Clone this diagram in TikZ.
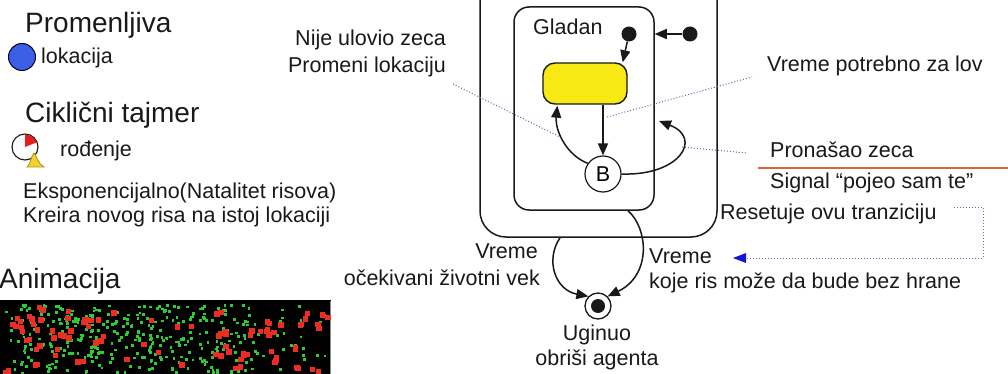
\documentclass[tikz,border=0pt]{standalone}
\usepackage{fontspec}
\setmainfont{Liberation Sans}
\usetikzlibrary{arrows.meta,calc}
\definecolor{ink}{RGB}{25,25,25}
\definecolor{leader}{RGB}{105,105,175}
\definecolor{tipblue}{RGB}{20,20,215}
\definecolor{statefill}{RGB}{248,232,20}
\definecolor{varblue}{RGB}{60,95,230}
\definecolor{timerred}{RGB}{230,30,30}
\definecolor{bellyellow}{RGB}{245,210,40}
\definecolor{sepline}{RGB}{215,100,60}
\definecolor{anired}{RGB}{235,45,35}
\definecolor{anigreen}{RGB}{45,205,50}
\begin{document}
\begin{tikzpicture}[x=1pt,y=-1pt,
  body/.style={font=\fontsize{21.5}{24}\selectfont, inner sep=0pt, text=ink},
  heading/.style={font=\fontsize{28}{30}\selectfont, inner sep=0pt, text=ink},
  edge/.style={draw=ink, line width=1.5pt, -{Triangle[length=12pt,width=10pt]}},
  leaderline/.style={draw=leader, dotted, line width=1pt},
  dot/.style={circle, fill=ink, inner sep=0pt, minimum size=15pt},
]
\useasboundingbox (0,0) rectangle (1008,374);
\clip (0,0) rectangle (1008,374);

% ---------- legend on the left ----------
\node[heading, anchor=base west] (tvar) at (25,33) {Promenljiva};
\node[circle, draw=black!85!blue, line width=1pt, fill=varblue, inner sep=0pt, minimum size=27pt] (varico) at (22,57) {};
\node[body, anchor=base west] (tlok) at (41,64) {lokacija};

\node[heading, anchor=base west] (ttimer) at (25,123) {Ciklični tajmer};
% cyclic timer icon: dial with red sector and a bell
\node[circle, draw=ink, line width=1.1pt, fill=white, inner sep=0pt, minimum size=26pt] (timer) at (25,147) {};
\fill[timerred] (timer.center) -- ++(0,-12.5) arc[start angle=-90, end angle=-22, radius=12.5] -- cycle;
\filldraw[fill=bellyellow, draw=black!30!bellyellow!80!brown, line width=0.8pt]
  (27,167) .. controls (31,164) and (31,156) .. (34,153)
  .. controls (37,156) and (38,164) .. (44,167) -- cycle;
\node[body, anchor=base west] (tbirth) at (60,157) {rođenje};
\node[body, anchor=base west] (texp) at (23,198) {Eksponencijalno(Natalitet risova)};
\node[body, anchor=base west] (tnew) at (23,222) {Kreira novog risa na istoj lokaciji};

\node[heading, anchor=base west] (tanim) at (-1,288) {Animacija};

% ---------- animation snapshot ----------
\fill[black] (0,300) rectangle (331,380);
\draw[black!45, line width=1pt] (330,301) -- (330,380);
\pgfmathsetseed{11}
% green agents, densest in the middle band
\foreach \i in {1,...,260}{
  \pgfmathsetmacro{\px}{20+rnd*230}
  \pgfmathsetmacro{\py}{304+rnd*68}
  \fill[anigreen] (\px,\py) rectangle ++(2.8,2.8);
}
\foreach \i in {1,...,110}{
  \pgfmathsetmacro{\px}{2+rnd*325}
  \pgfmathsetmacro{\py}{304+rnd*68}
  \fill[anigreen] (\px,\py) rectangle ++(2.8,2.8);
}
% red agents, in small clumps towards both sides
\foreach \i in {1,...,22}{
  \pgfmathsetmacro{\cx}{1+rnd*100}
  \pgfmathsetmacro{\cy}{306+rnd*62}
  \foreach \k in {1,2}{
    \pgfmathsetmacro{\px}{\cx+rnd*9-4}
    \pgfmathsetmacro{\py}{\cy+rnd*9-4}
    \fill[anired] (\px,\py) rectangle ++(5.5,5.5);
  }
}
\foreach \i in {1,...,8}{
  \pgfmathsetmacro{\px}{100+rnd*110}
  \pgfmathsetmacro{\py}{306+rnd*64}
  \fill[anired] (\px,\py) rectangle ++(5.5,5.5);
}
\foreach \i in {1,...,22}{
  \pgfmathsetmacro{\cx}{210+rnd*115}
  \pgfmathsetmacro{\cy}{306+rnd*62}
  \foreach \k in {1,2}{
    \pgfmathsetmacro{\px}{\cx+rnd*9-4}
    \pgfmathsetmacro{\py}{\cy+rnd*9-4}
    \fill[anired] (\px,\py) rectangle ++(5.5,5.5);
  }
}

% ---------- statechart ----------
\node[draw=ink, line width=1.5pt, rounded corners=26pt, minimum width=237pt, minimum height=270pt, inner sep=0pt] (outer) at (598.5,102) {};
\node[draw=ink, line width=1.5pt, rounded corners=15pt, minimum width=140pt, minimum height=203pt, inner sep=0pt] (gladan) at (584,108.5) {};
\node[body, anchor=base west] (tgladan) at (533,35) {Gladan};

\node[draw=ink, line width=1.4pt, fill=statefill, rounded corners=12pt, minimum width=84pt, minimum height=41pt, inner sep=0pt] (hunt) at (585,83.5) {};
\node[dot] (init) at (629,34) {};
\node[dot] (init2) at (690,34) {};
\node[circle, draw=ink, line width=1.2pt, fill=white, minimum size=36pt, inner sep=0pt, font=\fontsize{21.5}{24}\selectfont] (B) at (603,174) {B};

\draw[edge] (init) -- ($(hunt.north east)+(-5,0)$);
\draw[edge] (init2) -- (gladan.east |- init2);
\draw[edge] (B |- hunt.south) -- (B.north);
\coordinate (backin) at ($(hunt.south west)+(15,1)$);
\draw[edge] (B.145) .. controls (566,155) and (555,130) .. (backin);
\coordinate (caughtin) at (659,121);
\draw[edge] (B.east) .. controls (680,176) and (703,138) .. (caughtin);

% final state
\node[circle, draw=ink, line width=1.3pt, fill=white, minimum size=26pt, inner sep=0pt] (final) at (598,306) {};
\node[circle, fill=ink, minimum size=14pt, inner sep=0pt] (finalcore) at (final.center) {};
\coordinate (ageout) at ($(outer.south)+(-38.5,0)$);
\coordinate (starveout) at ($(gladan.south)+(44,0)$);
\draw[edge] (ageout) .. controls (545,260) and (555,290) .. (final.135);
\draw[edge] (starveout) .. controls (648,228) and (652,275) .. (final.45);

\node[body, anchor=base east] (tage1) at (538,258) {Vreme};
\node[body, anchor=base east] (tage2) at (540,285) {očekivani životni vek};
\node[body, anchor=base west] (tstarve1) at (649,263) {Vreme};
\node[body, anchor=base west] (tstarve2) at (649,288) {koje ris može da bude bez hrane};
\node[body, anchor=base] (tdead1) at (597,340) {Uginuo};
\node[body, anchor=base] (tdead2) at (597,365) {obriši agenta};

% ---------- annotations ----------
\node[body, anchor=base east] (tmiss1) at (446,46) {Nije ulovio zeca};
\node[body, anchor=base east] (tmiss2) at (446,73) {Promeni lokaciju};
\node[body, anchor=base west] (thunt) at (767,72) {Vreme potrebno za lov};
\node[body, anchor=base west] (tfound) at (770,158) {Pronašao zeca};
\node[body, anchor=base west] (tsignal) at (770,188) {Signal “pojeo sam te”};
\node[body, anchor=base west] (treset) at (720,219) {Resetuje ovu tranziciju};
\draw[sepline, line width=1.2pt] (758,168) -- (1010,168);

\coordinate (m1a) at (453,84);
\coordinate (m1b) at (560,137);
\draw[leaderline] (m1a) -- (m1b);
\coordinate (h1a) at (607,117);
\coordinate (h1b) at (752,77);
\draw[leaderline] (h1a) -- (h1b);
\coordinate (f1a) at (682,147);
\coordinate (f1b) at (747,153);
\draw[leaderline] (f1a) -- (f1b);
\coordinate (r1a) at ($(treset.east)+(17,-6)$);
\coordinate (r1c) at (983,258);
\coordinate (r1d) at (733,258);
\draw[leaderline] (r1a) -| (r1c) -- ($(r1d)+(8,0)$);
\draw[draw=none, fill=tipblue] (r1d) -- ++(13,-5) -- ++(0,10) -- cycle;
\end{tikzpicture}
\end{document}
